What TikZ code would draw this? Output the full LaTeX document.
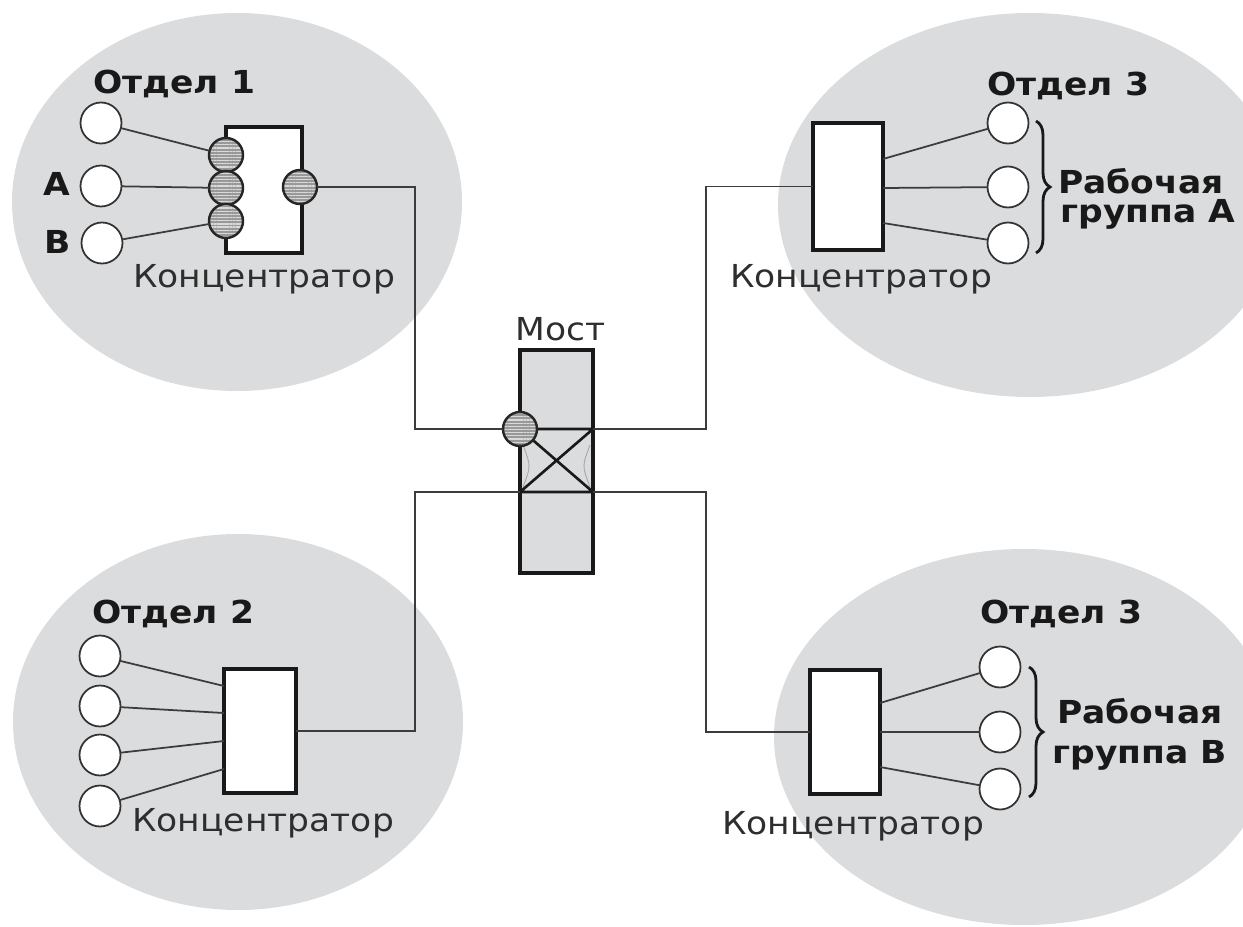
\documentclass[tikz,border=0pt]{standalone}
\usepackage{fontspec}
\setmainfont{DejaVu Sans}[FakeStretch=1.09]
\usetikzlibrary{patterns.meta,decorations.pathreplacing}
\definecolor{zonegray}{RGB}{219,220,222}
\definecolor{wiregray}{RGB}{60,60,60}
\begin{document}
\begin{tikzpicture}[x=0.02cm, y=-0.02cm]
\tikzset{pc/.style={draw=black!80, fill=white, circle, line width=1pt, minimum size=0.82cm, inner sep=0, outer sep=0},
  hub/.style={draw=black!90, fill=white, line width=1.8pt, inner sep=0, outer sep=0},
  port/.style={draw=black!85, circle, line width=1.4pt, minimum size=0.68cm, inner sep=0, outer sep=0,
    preaction={fill=black!40}, pattern={Lines[distance=1.8pt, line width=0.7pt]}, pattern color=white!85!black},
  wire/.style={draw=wiregray, line width=1pt},
  lbl/.style={anchor=base west, inner sep=0, font=\fontsize{18}{21}\selectfont, text=black!82},
  ttl/.style={lbl, font=\fontsize{18}{21}\selectfont\bfseries, text=black!90},
  groupbrace/.style={decorate, decoration={brace, amplitude=0.28cm}, line width=1.6pt, draw=black!90}}
\useasboundingbox (0,0) rectangle (1243,926);

% departments
\fill[zonegray] (237,202) ellipse [x radius=225, y radius=189];
\fill[zonegray] (1030,205) ellipse [x radius=252, y radius=192];
\fill[zonegray] (238,722) ellipse [x radius=225, y radius=188];
\fill[zonegray] (1024,737) ellipse [x radius=250, y radius=188];

% department 1
\node[hub, minimum width=1.52cm, minimum height=2.52cm] (hub1) at (264,190) {};
\node[pc] (pc1) at (101,123) {};
\node[pc] (pcA) at (101,186) {};
\node[pc] (pcB) at (102,243) {};
\node[port] (p1) at (226,155) {};
\node[port] (p2) at (226,188) {};
\node[port] (p3) at (226,221) {};
\node[port] (p4) at (300,187) {};
\draw[wire] (pc1) -- (p1);
\draw[wire] (pcA) -- (p2);
\draw[wire] (pcB) -- (p3);

% department 2
\node[hub, minimum width=1.44cm, minimum height=2.48cm] (hub2) at (260,731) {};
\node[pc] (pc5) at (100,656) {};
\node[pc] (pc6) at (100,706) {};
\node[pc] (pc7) at (100,755) {};
\node[pc] (pc8) at (100,806) {};
\draw[wire] (pc5) -- (hub2.west |- 0,686);
\draw[wire] (pc6) -- (hub2.west |- 0,713);
\draw[wire] (pc7) -- (hub2.west |- 0,741);
\draw[wire] (pc8) -- (hub2.west |- 0,769);

% department 3, group A
\node[hub, minimum width=1.40cm, minimum height=2.54cm] (hub3) at (848,186.5) {};
\node[pc] (pc9) at (1008,123) {};
\node[pc] (pc10) at (1008,187) {};
\node[pc] (pc11) at (1008,243) {};
\draw[wire] (hub3.east |- 0,159) -- (pc9);
\draw[wire] (hub3.east |- 0,188) -- (pc10);
\draw[wire] (hub3.east |- 0,223) -- (pc11);

% department 3, group B
\node[hub, minimum width=1.40cm, minimum height=2.48cm] (hub4) at (845,732) {};
\node[pc] (pc12) at (1000,667) {};
\node[pc] (pc13) at (1000,732) {};
\node[pc] (pc14) at (1000,789) {};
\draw[wire] (hub4.east |- 0,703) -- (pc12);
\draw[wire] (hub4.east |- 0,732) -- (pc13);
\draw[wire] (hub4.east |- 0,767) -- (pc14);

% bridge
\node[hub, fill=zonegray, minimum width=1.46cm, minimum height=4.46cm] (bridge) at (556.5,461.5) {};
\coordinate (bnw) at (bridge.west |- 0,429);
\coordinate (bne) at (bridge.east |- 0,429);
\coordinate (bsw) at (bridge.west |- 0,492);
\coordinate (bse) at (bridge.east |- 0,492);
\draw[black!35, line width=0.5pt] (523,445) .. controls (531,466) .. (523,487);
\draw[black!35, line width=0.5pt] (590,445) .. controls (582,466) .. (590,487);
\draw[black!90, line width=1.5pt] (bnw) -- (bne) (bsw) -- (bse) (bnw) -- (bse) (bsw) -- (bne);
\node[port] (bp) at (520,429) {};

% links to the bridge
\coordinate (jl) at (415,0);
\coordinate (jr) at (706,0);
\draw[wire] (p4) -- (p4 -| jl) |- (bp);
\draw[wire] (bne) -- (bne -| jr) |- (hub3);
\draw[wire] (hub2) -- (hub2 -| jl) |- (bsw);
\draw[wire] (bse) -- (bse -| jr) |- (hub4);

\draw[groupbrace] (1036,121) -- (1036,253);
\draw[groupbrace] (1029,667) -- (1029,797);

% labels
\node[ttl] (t1) at (93,93) {Отдел 1};
\node[ttl] (t2) at (92,623) {Отдел 2};
\node[ttl] (t3) at (987,95) {Отдел 3};
\node[ttl] (t4) at (980,623) {Отдел 3};
\node[ttl] (tA) at (43,195) {A};
\node[ttl] (tB) at (44,253) {B};
\node[ttl] (g1) at (1058,193) {Рабочая};
\node[ttl] (g2) at (1060,222) {группа A};
\node[ttl] (g3) at (1057,723) {Рабочая};
\node[ttl] (g4) at (1052,763) {группа B};
\node[lbl] (c1) at (133,287) {Концентратор};
\node[lbl] (c2) at (132,831) {Концентратор};
\node[lbl] (c3) at (730,287) {Концентратор};
\node[lbl] (c4) at (722,834) {Концентратор};
\node[lbl] (mst) at (515,340) {Мост};
\end{tikzpicture}
\end{document}
